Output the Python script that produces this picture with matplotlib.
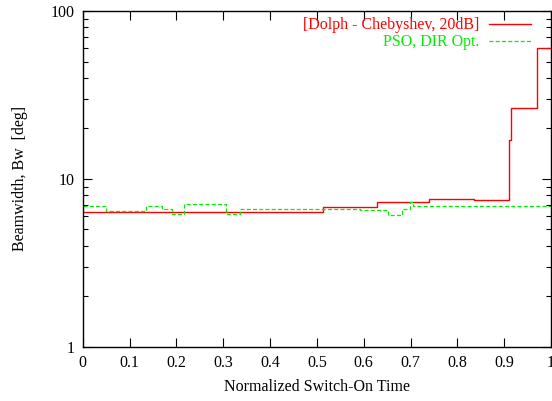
import matplotlib
matplotlib.use("Agg")
import matplotlib.pyplot as plt
from matplotlib.ticker import LogLocator, NullFormatter, FixedLocator, FixedFormatter

plt.rcParams['font.family'] = ['Liberation Serif', 'DejaVu Serif']

# Dolph-Chebyshev step data (edges and values)
dc_edges = [0.0, 0.5125, 0.629, 0.739, 0.836, 0.911, 0.914, 0.971, 1.0]
dc_values = [6.32, 6.83, 7.31, 7.62, 7.51, 17.1, 26.3, 60.0]

# PSO, DIR Opt. step data
pso_edges = [0.0, 0.050, 0.135, 0.169, 0.190, 0.217, 0.305, 0.336, 0.592,
             0.651, 0.681, 0.699, 0.705, 1.0]
pso_values = [6.86, 6.46, 6.86, 6.64, 6.15, 7.11, 6.15, 6.58, 6.52,
              6.06, 6.58, 7.3, 6.89]

x_ticks = [0, 0.1, 0.2, 0.3, 0.4, 0.5, 0.6, 0.7, 0.8, 0.9, 1]
x_tick_labels = ['0', '0.1', '0.2', '0.3', '0.4', '0.5', '0.6', '0.7', '0.8', '0.9', '1']
y_ticks = [1, 10, 100]
y_tick_labels = ['1', '10', '100']

W, H = 552, 401
fig = plt.figure(figsize=(W / 100, H / 100), dpi=100)
L, R, T, B = 82.7, 551, 11, 346.7
ax = fig.add_axes([L / W, 1 - B / H, (R - L) / W, (B - T) / H])

ax.step(dc_edges, dc_values + [dc_values[-1]], where='post', color='#ff0000', lw=1.0)
ax.step(pso_edges, pso_values + [pso_values[-1]], where='post', color='#00ee00', lw=0.9,
        linestyle=(0, (3.2, 1.8)))

ax.set_yscale('log')
ax.set_xlim(0, 1)
ax.set_ylim(1, 100)
ax.xaxis.set_major_locator(FixedLocator(x_ticks))
ax.xaxis.set_major_formatter(FixedFormatter(x_tick_labels))
ax.yaxis.set_major_locator(FixedLocator(y_ticks))
ax.yaxis.set_major_formatter(FixedFormatter(y_tick_labels))
ax.yaxis.set_minor_locator(LogLocator(base=10, subs=range(2, 10)))
ax.yaxis.set_minor_formatter(NullFormatter())
ax.tick_params(which='both', direction='in', top=True, right=True, labelsize=11.5, width=0.8)
ax.tick_params(which='major', length=6.5, pad=6)
ax.tick_params(which='minor', length=3.4)
for s in ax.spines.values():
    s.set_linewidth(1.0)

ax.set_xlabel('Normalized Switch-On Time', fontsize=11.5, labelpad=6)
ax.set_ylabel('Beamwidth, Bw  [deg]', fontsize=11.5, labelpad=16)

# legend (gnuplot style: right-aligned coloured text, sample to the right)
def ax_x(px):
    return (px - L) / (R - L)

def ax_y(py):
    return (B - py) / (B - T)

ax.text(ax_x(479), ax_y(25), '[Dolph - Chebyshev, 20dB]', color='#ff0000', fontsize=11.5,
        ha='right', va='center', transform=ax.transAxes)
ax.plot([ax_x(489), ax_x(531)], [ax_y(24), ax_y(24)], color='#ff0000', lw=1.0,
        transform=ax.transAxes)
ax.text(ax_x(479), ax_y(42), 'PSO, DIR Opt.', color='#00ee00', fontsize=11.5,
        ha='right', va='center', transform=ax.transAxes)
ax.plot([ax_x(489), ax_x(531)], [ax_y(41), ax_y(41)], color='#00ee00', lw=0.9,
        linestyle=(0, (3.2, 1.8)), transform=ax.transAxes)

fig.savefig('out.png', dpi=100)
